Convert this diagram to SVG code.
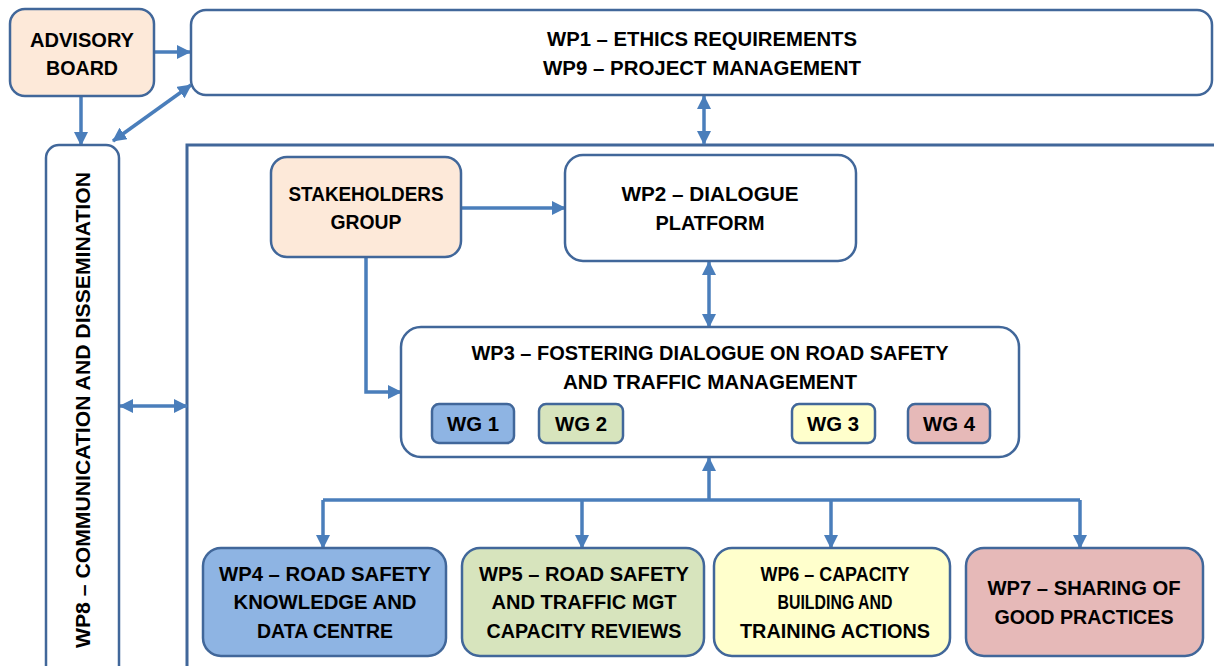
<svg xmlns="http://www.w3.org/2000/svg" width="1214" height="666" viewBox="0 0 1214 666">
<style>
.box{stroke:#41679A;stroke-width:2.5}
.w{fill:#FFFFFF}.peach{fill:#FDE9D9}.blue{fill:#8EB4E3}.green{fill:#D7E4BD}.yellow{fill:#FFFFCC}.pink{fill:#E6B9B8}
text{font-family:"Liberation Sans",Arial,sans-serif;font-weight:bold;font-size:20px;fill:#000;text-anchor:middle}
.c{fill:none;stroke:#4A7EBB;stroke-width:3.5}
</style>
<defs>
<marker id="ah" viewBox="0 0 14 14" refX="13" refY="7" markerWidth="14" markerHeight="14" markerUnits="userSpaceOnUse" orient="auto-start-reverse">
<path d="M0,0 L14,7 L0,14 z" fill="#4A7EBB"/>
</marker>
</defs>
<g id="container"><path d="M187,666 V145 H1214" fill="none" stroke="#41679A" stroke-width="3"/></g>
<g id="connectors">
<path class="c" d="M155,52 H190" marker-end="url(#ah)"/>
<path class="c" d="M81,97 V145" marker-end="url(#ah)"/>
<path class="c" d="M113,141 L191,85" marker-start="url(#ah)" marker-end="url(#ah)"/>
<path class="c" d="M120,406 H187" marker-start="url(#ah)" marker-end="url(#ah)"/>
<path class="c" d="M704,96 V144" marker-start="url(#ah)" marker-end="url(#ah)"/>
<path class="c" d="M462,208 H565" marker-end="url(#ah)"/>
<path class="c" d="M366,258 V392 H401" marker-end="url(#ah)"/>
<path class="c" d="M709,262 V327" marker-start="url(#ah)" marker-end="url(#ah)"/>
<path class="c" d="M709,500 V458" marker-end="url(#ah)"/>
<path class="c" d="M323,500 H1080"/>
<path class="c" d="M323,500 V548" marker-end="url(#ah)"/>
<path class="c" d="M582,500 V548" marker-end="url(#ah)"/>
<path class="c" d="M831,500 V548" marker-end="url(#ah)"/>
<path class="c" d="M1080,500 V548" marker-end="url(#ah)"/>
</g>
<g id="advisory"><rect class="box peach" x="10" y="9" width="144" height="87" rx="15"/>
<text x="82" y="47" textLength="104" lengthAdjust="spacingAndGlyphs">ADVISORY</text>
<text x="82" y="75" textLength="72" lengthAdjust="spacingAndGlyphs">BOARD</text></g>
<g id="wp1"><rect class="box w" x="191" y="10" width="1021" height="85" rx="15"/>
<text x="702" y="46" textLength="310" lengthAdjust="spacingAndGlyphs">WP1 – ETHICS REQUIREMENTS</text>
<text x="702" y="75" textLength="318" lengthAdjust="spacingAndGlyphs">WP9 – PROJECT MANAGEMENT</text></g>
<g id="wp8"><rect class="box w" x="46" y="145" width="73" height="540" rx="13"/>
<text x="83" y="417" transform="rotate(-90 83 410)" textLength="476" lengthAdjust="spacingAndGlyphs">WP8 – COMMUNICATION AND DISSEMINATION</text></g>
<g id="stakeholders"><rect class="box peach" x="271" y="157" width="190" height="100" rx="16"/>
<text x="366" y="201" textLength="155" lengthAdjust="spacingAndGlyphs">STAKEHOLDERS</text>
<text x="366" y="229" textLength="71" lengthAdjust="spacingAndGlyphs">GROUP</text></g>
<g id="wp2"><rect class="box w" x="565" y="155" width="291" height="106" rx="18"/>
<text x="710" y="201" textLength="177" lengthAdjust="spacingAndGlyphs">WP2 – DIALOGUE</text>
<text x="710" y="230" textLength="109" lengthAdjust="spacingAndGlyphs">PLATFORM</text></g>
<g id="wp3"><rect class="box w" x="401" y="327" width="618" height="130" rx="20"/>
<text x="710" y="360" textLength="477" lengthAdjust="spacingAndGlyphs">WP3 – FOSTERING DIALOGUE ON ROAD SAFETY</text>
<text x="710" y="389" textLength="294" lengthAdjust="spacingAndGlyphs">AND TRAFFIC MANAGEMENT</text></g>
<g id="wg1"><rect class="box blue" x="432" y="404" width="82" height="39" rx="7"/><text x="473" y="431" textLength="52" lengthAdjust="spacingAndGlyphs">WG 1</text></g>
<g id="wg2"><rect class="box green" x="539" y="404" width="84" height="39" rx="7"/><text x="581" y="431" textLength="52" lengthAdjust="spacingAndGlyphs">WG 2</text></g>
<g id="wg3"><rect class="box yellow" x="792" y="404" width="83" height="39" rx="7"/><text x="833" y="431" textLength="52" lengthAdjust="spacingAndGlyphs">WG 3</text></g>
<g id="wg4"><rect class="box pink" x="908" y="404" width="82" height="39" rx="7"/><text x="949" y="431" textLength="52" lengthAdjust="spacingAndGlyphs">WG 4</text></g>
<g id="wp4"><rect class="box blue" x="203" y="548" width="243" height="108" rx="18"/>
<text x="325" y="581" textLength="212" lengthAdjust="spacingAndGlyphs">WP4 – ROAD SAFETY</text>
<text x="325" y="609" textLength="183" lengthAdjust="spacingAndGlyphs">KNOWLEDGE AND</text>
<text x="325" y="638" textLength="136" lengthAdjust="spacingAndGlyphs">DATA CENTRE</text></g>
<g id="wp5"><rect class="box green" x="462" y="548" width="242" height="108" rx="18"/>
<text x="584" y="581" textLength="210" lengthAdjust="spacingAndGlyphs">WP5 – ROAD SAFETY</text>
<text x="584" y="609" textLength="185" lengthAdjust="spacingAndGlyphs">AND TRAFFIC MGT</text>
<text x="584" y="638" textLength="195" lengthAdjust="spacingAndGlyphs">CAPACITY REVIEWS</text></g>
<g id="wp6"><rect class="box yellow" x="714" y="548" width="236" height="108" rx="18"/>
<text x="835" y="581" textLength="149" lengthAdjust="spacingAndGlyphs">WP6 – CAPACITY</text>
<text x="835" y="609" textLength="115" lengthAdjust="spacingAndGlyphs">BUILDING AND</text>
<text x="835" y="638" textLength="190" lengthAdjust="spacingAndGlyphs">TRAINING ACTIONS</text></g>
<g id="wp7"><rect class="box pink" x="966" y="548" width="237" height="108" rx="18"/>
<text x="1084" y="595" textLength="193" lengthAdjust="spacingAndGlyphs">WP7 – SHARING OF</text>
<text x="1084" y="624" textLength="179" lengthAdjust="spacingAndGlyphs">GOOD PRACTICES</text></g>
</svg>
